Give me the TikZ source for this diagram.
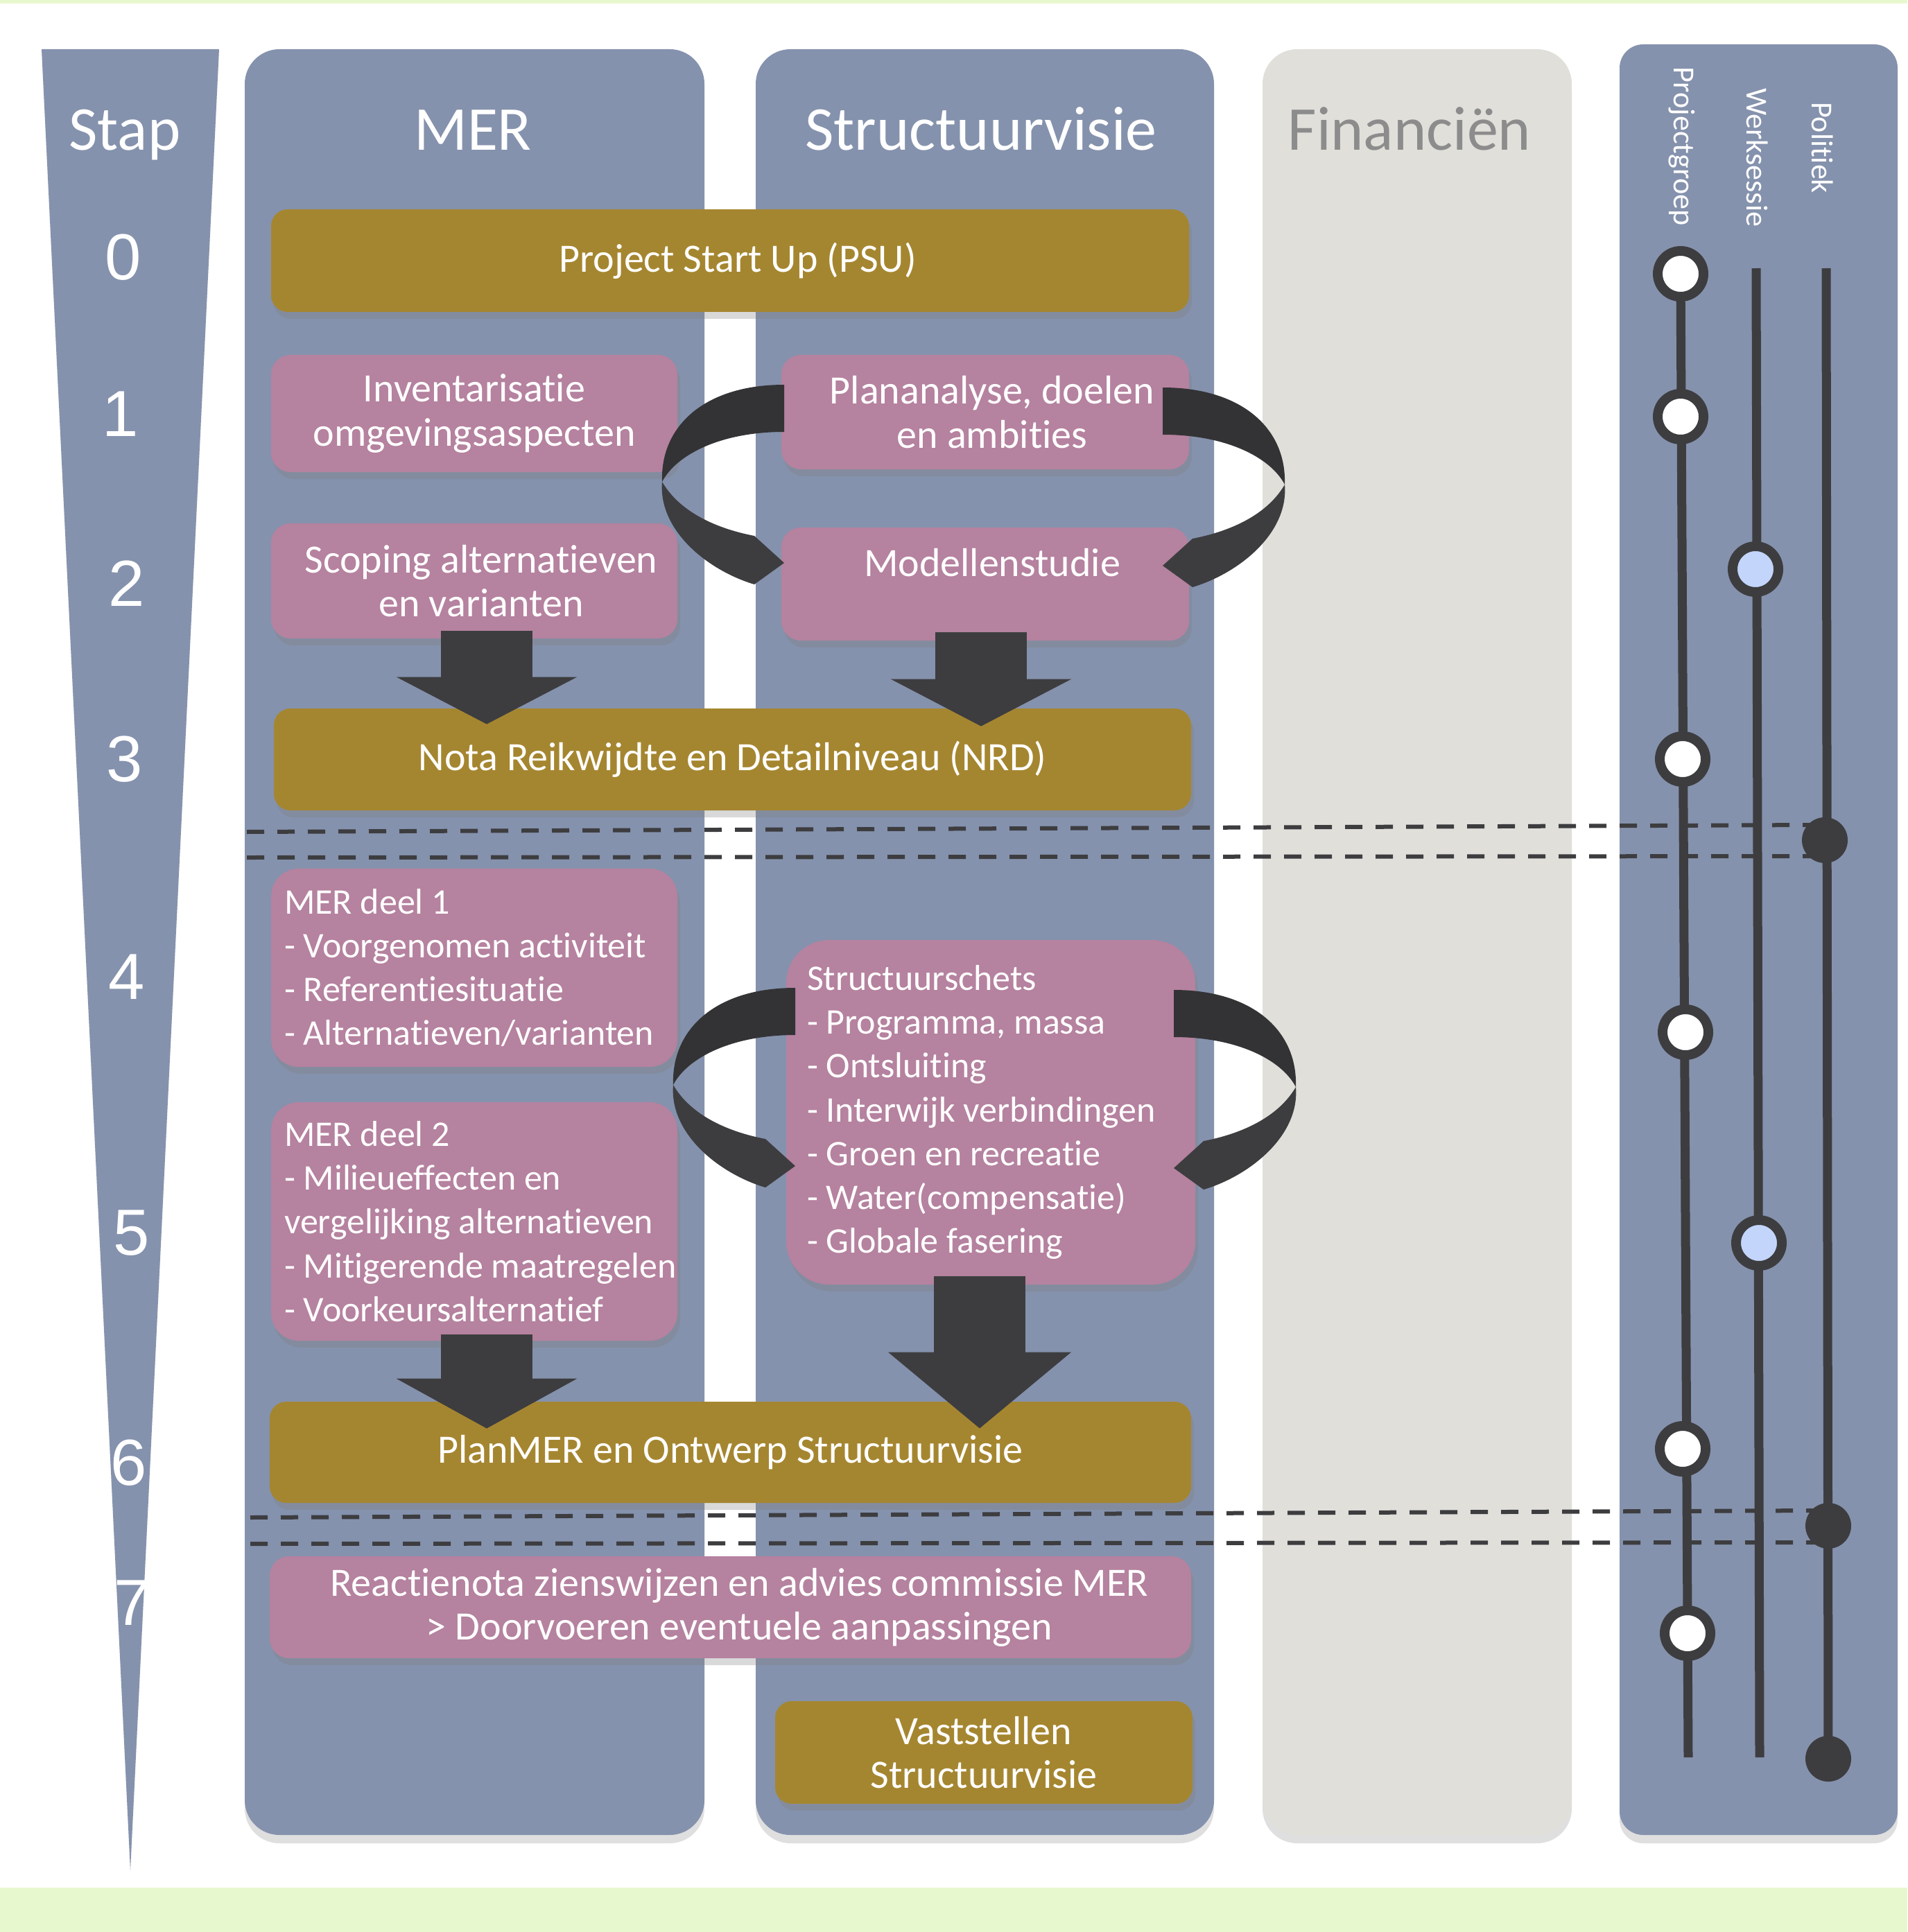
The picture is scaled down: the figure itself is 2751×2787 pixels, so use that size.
\documentclass[tikz,border=0pt]{standalone}
\usepackage{fontspec}
\setmainfont{Carlito}[Ligatures=NoCommon]
\newfontfamily\numfont{Liberation Sans}
\usetikzlibrary{shadows,arrows.meta,calc}

\definecolor{colblue}{HTML}{8592AD}
\definecolor{pinkbox}{HTML}{B5829F}
\definecolor{goldbox}{HTML}{A58630}
\definecolor{darkgray}{HTML}{3D3D40}
\definecolor{ribbontop}{HTML}{333335}
\definecolor{finbg}{HTML}{E0DFDA}
\definecolor{fintext}{HTML}{8C8C8C}
\definecolor{wsblue}{HTML}{C3D5FB}
\definecolor{band}{HTML}{E8F8CE}

\tikzset{
  column/.style={rounded corners=25pt, drop shadow={shadow xshift=0pt,shadow yshift=-6pt,opacity=.25}},
  header/.style={text=white, anchor=base, font=\fontsize{45}{54}\selectfont},
  stapnr/.style={text=white, font=\numfont\fontsize{47}{56}\selectfont},
  vlabel/.style={text=white, rotate=-90, font=\fontsize{22}{26}\selectfont},
  box/.style={text=white, align=center, inner ysep=0pt, font=\fontsize{29}{31.6}\selectfont,
    drop shadow={shadow xshift=2pt,shadow yshift=-5pt,opacity=.3}},
  pinkbox/.style={box, fill=pinkbox, rounded corners=14pt},
  goldbox/.style={box, fill=goldbox, rounded corners=12pt},
  listbox/.style={pinkbox, align=flush left, rounded corners=20pt, font=\fontsize{26}{31.6}\selectfont},
  blockarrow/.style={draw=darkgray, line width=66pt, -{Triangle[width=129pt,length=#1]}},
  blockarrow/.default=34pt,
  sepline/.style={draw=darkgray, line width=3pt, dash pattern=on 12.5pt off 9.5pt},
  timeline/.style={draw=darkgray, line width=6.5pt},
  pgdot/.style={circle, draw=darkgray, line width=7pt, fill=white, minimum size=33pt, inner sep=0pt},
  wsdot/.style={pgdot, fill=wsblue},
  poldot/.style={circle, fill=darkgray, minimum size=33pt, inner sep=0pt}
}

% circular ribbon arrow, #1 = top of tail, #2 = 1 (left) or -1 (right)
\newcommand{\curlarrow}[2]{%
  \begin{scope}[shift={#1}, xscale=#2]
    \fill[ribbontop] (0,0) .. controls (-115,0) and (-179,60) .. (-176,140)
      .. controls (-155,100) and (-90,68) .. (0,68) -- cycle;
    \fill[darkgray] (-176,140) .. controls (-182,210) and (-110,268) .. (-43,288)
      -- (0,257) -- (-43,218) .. controls (-95,208) and (-150,185) .. (-176,140) -- cycle;
  \end{scope}}

\begin{document}
\begin{tikzpicture}[x=0.5pt,y=-0.5pt]
  \useasboundingbox (0,0) rectangle (2751,2787);
  \fill[band] (0,0) rectangle (2751,5);
  \fill[band] (0,2723) rectangle (2751,2787);

  % columns
  \fill[colblue, drop shadow={shadow xshift=0pt,shadow yshift=-3pt,opacity=.15}] (60,71) -- (316,71) -- (188,2697) -- cycle;
  \fill[colblue, column] (353,71) rectangle (1016,2647);
  \fill[colblue, column] (1090,71) rectangle (1751,2647);
  \fill[finbg, column] (1821,71) rectangle (2267,2647);
  \fill[colblue, rounded corners=17pt, drop shadow={shadow xshift=0pt,shadow yshift=-6pt,opacity=.25}] (2336,64) rectangle (2737,2647);

  \node[header] (hstap) at (180,217) {Stap};
  \node[header] (hmer) at (682,217) {MER};
  \node[header] (hsv) at (1415,217) {Structuurvisie};
  \node[header, text=fintext] (hfin) at (2033,217) {Financiën};

  \foreach \n/\x/\y in {0/178/371, 1/174/597, 2/183/842, 3/180/1095, 4/183/1409, 5/190/1779, 6/186/2110, 7/191/2312}
    \node[stapnr] (nr\n) at (\x,\y) {\n};

  % steps
  \node[goldbox, minimum width=662pt, minimum height=74pt] (psu) at (1053,376) {\hspace*{11pt}Project Start Up (PSU)};
  \node[pinkbox, minimum width=293pt, minimum height=84.5pt] (inv) at (684,596.5) {Inventarisatie\\omgevingsaspecten};
  \node[pinkbox, minimum width=294pt, minimum height=82.5pt] (plan) at (1421,594.5) {\hspace*{10pt}Plananalyse, doelen\\\hspace*{10pt}en ambities};
  \node[pinkbox, minimum width=293pt, minimum height=83pt] (scop) at (684,838) {\hspace*{10pt}Scoping alternatieven\\\hspace*{10pt}en varianten};
  \node[pinkbox, minimum width=294pt, minimum height=81.5pt] (model) at (1421,842.5) {\hspace*{10pt}Modellenstudie\\\mbox{}};
  \node[goldbox, minimum width=661.5pt, minimum height=73.5pt] (nrd) at (1056.5,1095.5) {Nota Reikwijdte en Detailniveau (NRD)};
  \node[listbox, text width=274pt, inner xsep=9.5pt, minimum height=143pt] (mer1) at (684,1396)
    {MER deel 1\\- Voorgenomen activiteit\\- Referentiesituatie\\\mbox{- Alternatieven/varianten}};
  \node[listbox, text width=274pt, inner xsep=9.5pt, minimum height=172pt] (mer2) at (684,1762)
    {MER deel 2\\- Milieueffecten en\\\mbox{vergelijking alternatieven}\\\mbox{- Mitigerende maatregelen}\\- Voorkeursalternatief};
  \node[listbox, rounded corners=31pt, text width=265pt, inner xsep=15pt, minimum height=248.5pt] (schets) at (1429,1604.5)
    {Structuurschets\\- Programma, massa\\- Ontsluiting\\\mbox{- Interwijk verbindingen}\\- Groen en recreatie\\- Water(compensatie)\\- Globale fasering};
  \node[goldbox, minimum width=664.5pt, minimum height=73pt] (planmer) at (1053.5,2095) {PlanMER en Ontwerp Structuurvisie};
  \node[pinkbox, minimum width=664.5pt, minimum height=73.5pt] (react) at (1053.5,2318.5)
    {\hspace*{13pt}Reactienota zienswijzen en advies commissie MER\\\hspace*{13pt}> Doorvoeren eventuele aanpassingen};
  \node[goldbox, minimum width=301pt, minimum height=74pt] (vast) at (1419,2528) {Vaststellen\\Structuurvisie};

  % arrows
  \draw[blockarrow] ($(scop.south)+(18,-11.5)$) -- ($(scop.south |- nrd.north)+(18,23)$);
  \draw[blockarrow] ($(model.south)+(-6,-12)$) -- ($(model.south |- nrd.north)+(-6,26)$);
  \draw[blockarrow=36pt] ($(mer2.south)+(18,-9)$) -- ($(mer2.south |- planmer.north)+(18,39)$);
  \draw[blockarrow=55pt] ($(schets.south)+(-16,-12)$) -- ($(schets.south |- planmer.north)+(-16,39)$);
  \curlarrow{(1131,555)}{1}
  \curlarrow{(1677,559)}{-1}
  \curlarrow{(1147,1425)}{1}
  \curlarrow{(1693,1428)}{-1}

  % separators
  \draw[sepline] (356,1200) -- (2615,1190);
  \draw[sepline] (356,1237) -- (2615,1235);
  \draw[sepline] (361,2189) -- (2620,2179);
  \draw[sepline] (361,2227) -- (2620,2225);

  % participation
  \node[vlabel] (lpg) at (2426,211) {Projectgroep};
  \node[vlabel] (lws) at (2535,227) {Werksessie};
  \node[vlabel] (lpol) at (2629,213) {Politiek};
  \draw[timeline] (2424,395) -- (2435,2535);
  \draw[timeline] (2533,387) -- (2538,2535);
  \draw[timeline] (2634,387) -- (2637,2538);
  \foreach \x/\y [count=\i] in {2424/395, 2424/601, 2427/1095, 2431/1489, 2427/2090, 2434/2356}
    \node[pgdot] (pg\i) at (\x,\y) {};
  \node[wsdot] (ws1) at (2532,821) {};
  \node[wsdot] (ws2) at (2537,1793) {};
  \node[poldot] (pol1) at (2632,1212) {};
  \node[poldot] (pol2) at (2637,2201) {};
  \node[poldot] (pol3) at (2637,2537) {};
\end{tikzpicture}
\end{document}
